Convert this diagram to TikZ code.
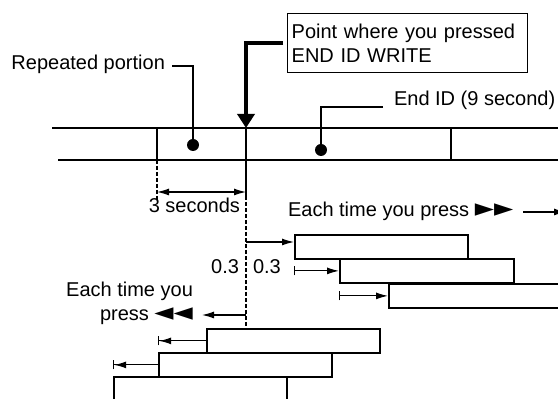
\documentclass[tikz,border=0pt]{standalone}
\usepackage{fontspec}
\setmainfont{Liberation Sans}
\newfontfamily\symfont{DejaVu Sans}
\usetikzlibrary{arrows.meta}
\usetikzlibrary{positioning}

\tikzset{
    seg/.style={draw, line width=0.9pt, anchor=north west, inner sep=0pt, minimum width=86.5pt, minimum height=12pt},
    dot/.style={circle, fill, inner sep=0pt, minimum size=6pt},
    hint/.style={line width=0.6pt, -{Latex[length=6pt,width=3.5pt]}},
    twohint/.style={line width=0.6pt, {Latex[length=6pt,width=3.5pt]}-{Latex[length=6pt,width=3.5pt]}},
    barhint/.style={line width=0.6pt, {Bar[width=4.5pt]}-{Latex[length=6pt,width=3.5pt]}},
    lbarhint/.style={line width=0.6pt, {Bar[width=4.5pt]Latex[length=6pt,width=3.5pt]}-},
    guide/.style={line width=0.6pt, dash pattern=on 2pt off 1pt},
}

\newcommand{\tipsym}[1]{{\symfont\fontsize{12.5}{12}\selectfont #1}}

\begin{document}
\begin{tikzpicture}[x=0.5pt, y=-0.5pt, font=\fontsize{10}{12}\selectfont]

    \clip (0, 0) rectangle (558, 399);

    % tape
    \coordinate (t1) at (52, 128);
    \coordinate (t2) at (570, 128);
    \coordinate (b1) at (58, 160);
    \coordinate (b2) at (570, 160);
    \draw [line width=0.8pt] (t1) -- (t2);
    \draw [line width=0.8pt] (b1) -- (b2);

    \coordinate (rs) at (157, 128);
    \coordinate (pt) at (246, 128);
    \coordinate (ne) at (451, 128);
    \draw [line width=0.8pt] (rs) -- (rs |- b1);
    \draw [line width=0.8pt] (ne) -- (ne |- b1);

    \node[dot] (d1) at (193, 145) {};
    \node[dot] (d2) at (321, 150) {};

    % labels above the tape
    \node[anchor=east] (rep) at (172, 64) {Repeated portion};
    \draw [line width=0.6pt] ([yshift=-1pt]rep.east) -| (d1);

    \node[anchor=west] (eid) at (387, 100) {End ID (9 second)};
    \draw [line width=0.6pt] ([xshift=-2pt, yshift=-3.5pt]eid.west) -| (d2);

    \node[draw, line width=0.7pt, anchor=north west, text width=116pt, inner xsep=2pt,
          minimum height=29.5pt, align=left] (note) at (287, 13) {Point where you pressed\\END ID WRITE};
    \draw [line width=2.2pt, -{Triangle[width=8.5pt, length=7pt]}] ([xshift=-2pt]note.west) -| (pt);

    % forward segments
    \node[seg] (f1) at (294, 234) {};
    \node[seg, minimum width=87pt] (f2) at (339, 258) {};
    \node[seg, minimum width=91pt] (f3) at (388, 283) {};

    % backward segments
    \node[seg] (r1) at (206, 328) {};
    \node[seg] (r2) at (158, 352) {};
    \node[seg, minimum height=17pt] (r3) at (113, 376) {};

    % guides below the tape
    \coordinate (pg) at (246, 196);
    \draw [line width=0.8pt] (pt) -- (pg);
    \draw [guide] (pg) -- (pt |- r1.north);
    \draw [guide] (rs |- b1) -- (157, 200);

    \coordinate (s1) at (157, 192);
    \coordinate (s2) at (246, 192);
    \draw [twohint] (s1) -- (s2);
    \node[anchor=east] (sec) at (247, 205) {3 seconds};

    \node[anchor=east] (qa) at (246, 267) {0.3};
    \node[anchor=west] (qb) at (246, 267) {0.3};

    % fast forward
    \node[anchor=west] (ffw) at (281, 211) {Each time you press \tipsym{►►}};
    \coordinate (fa) at (523, 212);
    \coordinate (fb) at (566, 212);
    \draw [hint] (fa) -- (fb);

    \draw [hint] (pt |- 0, 242) -- (f1.west |- 0, 242);
    \draw [barhint] (f2.west -| f1.west) -- (f2.west);
    \draw [barhint] (f3.west -| f2.west) -- (f3.west);

    % rewind
    \node[anchor=east, align=right] (rew) at (200, 303) {Each time you\\press \tipsym{◄◄}};
    \coordinate (lp) at (202, 315);
    \draw [hint] (pt |- lp) -- (lp);

    \draw [lbarhint] (r1.west -| r2.west) -- (r1.west);
    \draw [lbarhint] (r2.west -| r3.west) -- (r2.west);

\end{tikzpicture}
\end{document}
